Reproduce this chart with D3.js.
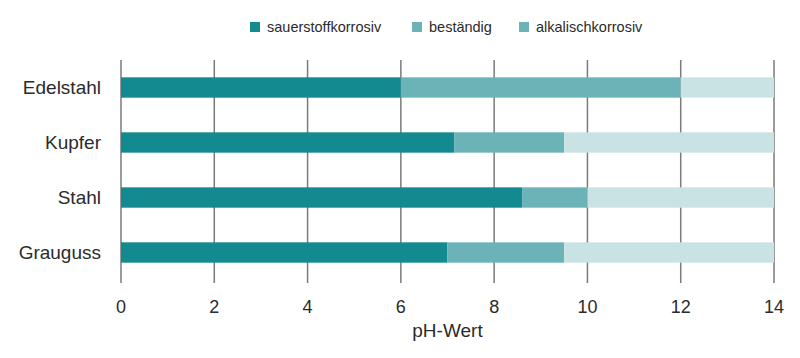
<!DOCTYPE html>
<html>
<head>
<meta charset="utf-8">
<script src="https://cdn.jsdelivr.net/npm/d3@7"></script>
<style>
  body { margin: 0; background: #fff; }
  text { font-family: "Liberation Sans", Arial, sans-serif; fill: #2b2b2b; }
</style>
</head>
<body>
<div id="chart"></div>
<script>
// data
const materials = ["Edelstahl", "Kupfer", "Stahl", "Grauguss"];
const sauerstoffkorrosiv = [6, 7.15, 8.6, 7];   // 0 .. value
const bestaendig = [12, 9.5, 10, 9.5];          // previous .. value
const alkalischkorrosiv = [14, 14, 14, 14];     // previous .. value
const legendLabels = ["sauerstoffkorrosiv", "beständig", "alkalischkorrosiv"];
const xTicks = [0, 2, 4, 6, 8, 10, 12, 14];

const width = 800, height = 358;
const margin = { top: 60, right: 26, bottom: 75, left: 121 };

const colors = ["#138a8f", "#6cb3b7", "#c9e3e4"];
const legendColors = ["#138a8f", "#6cb3b7", "#6cb3b7"];

const svg = d3.select("#chart")
  .append("svg")
  .attr("width", width)
  .attr("height", height);

const x = d3.scaleLinear()
  .domain([0, 14])
  .range([margin.left, width - margin.right]);

const y = d3.scaleBand()
  .domain(materials)
  .range([60, 280])
  .paddingInner(0.63)
  .paddingOuter(0.315);

// stacked segments
const segments = [];
materials.forEach(function(m, i) {
  const stops = [0, sauerstoffkorrosiv[i], bestaendig[i], alkalischkorrosiv[i]];
  for (let k = 0; k < 3; k++) {
    segments.push({ m: m, x0: stops[k], x1: stops[k + 1], k: k });
  }
});

// gridlines (drawn behind bars, visible between them)
svg.append("g")
  .selectAll("line")
  .data(xTicks)
  .enter()
  .append("line")
  .attr("x1", d => x(d))
  .attr("x2", d => x(d))
  .attr("y1", margin.top)
  .attr("y2", height - margin.bottom)
  .attr("stroke", "#7a7a7a")
  .attr("stroke-width", 1.5);

svg.append("g")
  .selectAll("rect")
  .data(segments)
  .enter()
  .append("rect")
  .attr("x", d => x(d.x0))
  .attr("width", d => x(d.x1) - x(d.x0))
  .attr("y", d => y(d.m))
  .attr("height", y.bandwidth())
  .attr("fill", d => colors[d.k]);

// category labels
svg.append("g")
  .selectAll("text")
  .data(materials)
  .enter()
  .append("text")
  .attr("x", 101)
  .attr("y", d => y(d) + y.bandwidth() / 2)
  .attr("dy", "0.35em")
  .attr("text-anchor", "end")
  .style("font-size", "19px")
  .text(d => d);

// x tick labels
svg.append("g")
  .selectAll("text")
  .data(xTicks)
  .enter()
  .append("text")
  .attr("x", d => x(d))
  .attr("y", 313)
  .attr("text-anchor", "middle")
  .style("font-size", "18px")
  .text(d => d);

svg.append("text")
  .attr("x", x(7))
  .attr("y", 337)
  .attr("text-anchor", "middle")
  .style("font-size", "19px")
  .text("pH-Wert");

// legend
const legendX = [250, 412, 519];
const legend = svg.append("g")
  .selectAll("g")
  .data(legendLabels)
  .enter()
  .append("g")
  .attr("transform", (d, i) => "translate(" + legendX[i] + ",22)");

legend.append("rect")
  .attr("width", 10)
  .attr("height", 10)
  .attr("fill", (d, i) => legendColors[i]);

legend.append("text")
  .attr("x", 17)
  .attr("y", 5)
  .attr("dy", "0.35em")
  .style("font-size", "14.5px")
  .text(d => d);
</script>
</body>
</html>
